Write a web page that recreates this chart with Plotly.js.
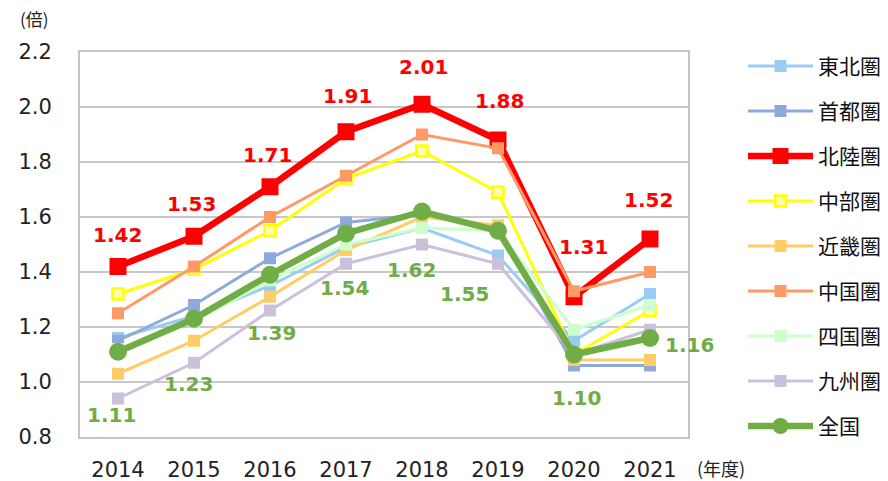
<!DOCTYPE html>
<html>
<head>
<meta charset="utf-8">
<script src="https://cdn.plot.ly/plotly-3.0.1.min.js"></script>
<style>
html,body{margin:0;padding:0;background:#fff;}
#chart{width:888px;height:481px;}
</style>
</head>
<body>
<div id="chart"></div>
<script>
// ---- data ----
var years = ['2014','2015','2016','2017','2018','2019','2020','2021'];
var seriesNames = ['東北圏','首都圏','北陸圏','中部圏','近畿圏','中国圏','四国圏','九州圏','全国'];
var tohoku   = [1.16, 1.24, 1.35, 1.49, 1.56, 1.46, 1.15, 1.32];
var shutoken = [1.15, 1.28, 1.45, 1.58, 1.61, 1.56, 1.06, 1.06];
var hokuriku = [1.42, 1.53, 1.71, 1.91, 2.01, 1.88, 1.31, 1.52];
var chubu    = [1.32, 1.41, 1.55, 1.74, 1.84, 1.69, 1.10, 1.26];
var kinki    = [1.03, 1.15, 1.31, 1.48, 1.60, 1.57, 1.08, 1.08];
var chugoku  = [1.25, 1.42, 1.60, 1.75, 1.90, 1.85, 1.33, 1.40];
var shikoku  = [1.12, 1.22, 1.37, 1.50, 1.56, 1.55, 1.19, 1.28];
var kyushu   = [0.94, 1.07, 1.26, 1.43, 1.50, 1.43, 1.10, 1.19];
var zenkoku  = [1.11, 1.23, 1.39, 1.54, 1.62, 1.55, 1.10, 1.16];
var yTicks = [0.8, 1.0, 1.2, 1.4, 1.6, 1.8, 2.0, 2.2];
var yUnit = '(倍)';
var xUnit = '(年度)';

// ---- styles (not data) ----
var styles = [
  {c:'#9ACBF5', w:3, ms:12, sym:'square', fill:'#9ACBF5'},
  {c:'#8EA9DB', w:3, ms:12, sym:'square', fill:'#8EA9DB'},
  {c:'#FF0000', w:6.5, ms:17, sym:'square', fill:'#FF0000'},
  {c:'#FFFF00', w:3, ms:11, sym:'square', fill:'#FFFFA8', lw:2.5},
  {c:'#FFCC66', w:3, ms:12, sym:'square', fill:'#FFCC66'},
  {c:'#FF9966', w:3, ms:12, sym:'square', fill:'#FF9966'},
  {c:'#CCFFCC', w:3, ms:12, sym:'square', fill:'#CCFFCC'},
  {c:'#CCC0DA', w:3, ms:12, sym:'square', fill:'#CCC0DA'},
  {c:'#70AD47', w:6.5, ms:18, sym:'circle', fill:'#70AD47'}
];
var allSeries = [tohoku, shutoken, hokuriku, chubu, kinki, chugoku, shikoku, kyushu, zenkoku];

var traces = allSeries.map(function(vals, i){
  var s = styles[i];
  return {
    type:'scatter', mode:'lines+markers',
    x: years, y: vals, name: seriesNames[i],
    legendgroup: 'g'+i,
    line:{color:s.c, width:s.w},
    marker:{symbol:s.sym, size:s.ms, color:s.fill, line:{color:s.c, width:s.lw||0}},
    hoverinfo:'skip'
  };
});

// label offsets (pixels) for the data labels
var redDx = [-1,-3,-3,1,1,1,9,-2];
var redDy = [32,32,32,36,37,39,50,39];
var grnDx = [-7,-6,1,-2,-11,-34,2,39];
var grnDy = [63,65,58,54,58,63,43,7];

var annotations = [];
years.forEach(function(yr, i){
  annotations.push({
    x: i, y: hokuriku[i], xref:'x', yref:'y',
    text: '<b>' + hokuriku[i].toFixed(2) + '</b>', showarrow:false,
    xshift: redDx[i], yshift: redDy[i], xanchor:'center', yanchor:'middle',
    font:{family:'DejaVu Sans', size:20, color:'#FF0000'}
  });
  annotations.push({
    x: i, y: zenkoku[i], xref:'x', yref:'y',
    text: '<b>' + zenkoku[i].toFixed(2) + '</b>', showarrow:false,
    xshift: grnDx[i], yshift: -grnDy[i], xanchor:'center', yanchor:'middle',
    font:{family:'DejaVu Sans', size:20, color:'#70AD47'}
  });
});
annotations.push({
  xref:'paper', yref:'paper', x:-0.075, y:1.088, xanchor:'center', yanchor:'middle',
  text: yUnit, showarrow:false,
  font:{family:'Noto Sans CJK JP', size:17, color:'#222'}
});
annotations.push({
  xref:'paper', yref:'paper', x:1.055, y:-0.08, xanchor:'center', yanchor:'middle',
  text: xUnit, showarrow:false,
  font:{family:'Noto Sans CJK JP', size:18, color:'#222'}
});

var layout = {
  width:888, height:481,
  margin:{l:80, r:200, t:52, b:44, autoexpand:false},
  paper_bgcolor:'#fff', plot_bgcolor:'#fff',
  showlegend:true,
  legend:{
    x:1.0, xanchor:'left',
    y:1.0, yanchor:'top',
    font:{family:'Noto Sans CJK JP', size:21, color:'#111'},
    tracegroupgap:14.7, itemwidth:60,
    bgcolor:'rgba(0,0,0,0)', borderwidth:0
  },
  xaxis:{
    type:'category', range:[-0.5, 7.5],
    showgrid:false, zeroline:false,
    showline:true, mirror:true, linecolor:'#C4C4C4', linewidth:2,
    ticks:'outside', ticklen:13, tickcolor:'rgba(0,0,0,0)',
    tickfont:{family:'DejaVu Sans', size:21, color:'#222'}
  },
  yaxis:{
    range:[0.8, 2.2], tickvals:yTicks, tickformat:'.1f',
    showgrid:true, gridcolor:'#C8C8C8', gridwidth:1.6, zeroline:false,
    showline:true, mirror:true, linecolor:'#C4C4C4', linewidth:2,
    ticks:'outside', ticklen:22, tickcolor:'rgba(0,0,0,0)',
    tickfont:{family:'DejaVu Sans', size:21, color:'#222'}
  },
  annotations: annotations
};

var gd = document.getElementById('chart');
Plotly.newPlot(gd, traces, layout, {staticPlot:true, displayModeBar:false}).then(function(){
  var leg = gd.querySelector('.legend');
  if (!leg) return;
  // show full legend (no scroll clipping)
  leg.querySelectorAll('[clip-path]').forEach(function(e){ e.removeAttribute('clip-path'); });
  leg.querySelectorAll('.scrollbar').forEach(function(e){ e.style.display = 'none'; });
  leg.querySelectorAll('.traces').forEach(function(t){
    var l = t.querySelector('.legendlines path');
    if (l) l.setAttribute('d', 'M0,0h65');
    t.querySelectorAll('.legendpoints path').forEach(function(p){
      p.setAttribute('transform', 'translate(32.5,0)');
    });
  });
  // place legend so that its first line starts at x=748 and sits at y=66
  var first = leg.querySelector('.traces .legendlines path');
  var tr = leg.getAttribute('transform') || '';
  var m = tr.match(/translate\(\s*([-\d.]+)[ ,]+([-\d.]+)\s*\)/);
  if (first && m) {
    var rootRect = gd.getBoundingClientRect();
    var r = first.getBoundingClientRect();
    var dx = 748 - (r.left - rootRect.left);
    var dy = 66 - (r.top - rootRect.top + r.height / 2);
    leg.setAttribute('transform', 'translate(' + (parseFloat(m[1]) + dx) + ',' + (parseFloat(m[2]) + dy) + ')');
  }
});
</script>
</body>
</html>
